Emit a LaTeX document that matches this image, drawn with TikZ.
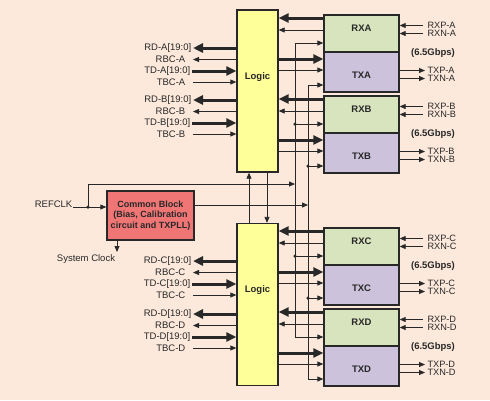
\documentclass[tikz,border=0pt]{standalone}
\usepackage{fontspec}
\setmainfont{Liberation Sans}
\usetikzlibrary{arrows.meta}
\definecolor{bgc}{RGB}{252,233,219}
\definecolor{logicY}{RGB}{255,255,153}
\definecolor{rxG}{RGB}{216,228,190}
\definecolor{txP}{RGB}{204,194,220}
\definecolor{cbR}{RGB}{240,118,118}
\definecolor{ink}{RGB}{40,40,40}
\begin{document}
\begin{tikzpicture}[x=1pt,y=-1pt,
  lbl/.style={font=\fontsize{9.5}{10}\selectfont, text=ink, inner sep=0.5pt},
  plbl/.style={font=\fontsize{9.2}{10}\selectfont, text=ink, inner sep=0.3pt},
  blbl/.style={font=\fontsize{9.5}{10}\selectfont\bfseries, text=ink, inner sep=0.5pt},
  blk/.style={draw=ink, line width=1.3pt, inner sep=0pt},
  logicbox/.style={blk, fill=logicY, minimum width=41pt, minimum height=162pt},
  rxbox/.style={blk, fill=rxG, minimum width=75pt, minimum height=37pt},
  txbox/.style={blk, fill=txP, minimum width=75pt, minimum height=40pt},
  tline/.style={draw=ink, line width=0.8pt},
  tarr/.style={tline, -{Triangle[length=6pt,width=5pt]}},
  barr/.style={draw=ink, line width=3pt, -{Triangle[length=10pt,width=9pt]}},
  jdot/.style={circle, fill=ink, inner sep=0pt, minimum size=3.5pt},
]
\fill[bgc] (0,0) rectangle (490,400);
\useasboundingbox (0,0) rectangle (490,400);

% logic blocks
\node[logicbox, label={[blbl,yshift=14pt]center:Logic}] (LA) at (257.5,91) {};
\node[logicbox, label={[blbl,yshift=14pt]center:Logic}] (LB) at (257.5,304.5) {};

% clock buses
\coordinate (bRA) at (295,43);
\coordinate (bRD) at (295,337);
\coordinate (bTA) at (308,85);
\coordinate (bTD) at (308,379);

% channels on the right
\foreach \c/\o/\L in {A/0/LA, B/81/LA, C/213/LB, D/294/LB}{
  \node[rxbox, label={[blbl,yshift=5pt]center:RX\c}] (rx\c) at (361.5,33.5+\o) {};
  \node[txbox, label={[blbl,yshift=-3pt]center:TX\c}] (tx\c) at (361.5,72+\o) {};
  \node[blbl] (g\c) at (433,53+\o) {(6.5Gbps)};
  % serial ports
  \node[plbl, anchor=west] (rxp\c) at (427,25.5+\o) {RXP-\c};
  \node[plbl, anchor=west] (rxn\c) at (427,33.5+\o) {RXN-\c};
  \node[plbl, anchor=west] (txp\c) at (427,70.5+\o) {TXP-\c};
  \node[plbl, anchor=west] (txn\c) at (427,78.5+\o) {TXN-\c};
  \draw[tarr] ([xshift=-4pt]rxp\c.west) -- (rx\c.east |- rxp\c.west);
  \draw[tarr] ([xshift=-4pt]rxn\c.west) -- (rx\c.east |- rxn\c.west);
  \draw[tarr] (tx\c.east |- txp\c.west) -- ([xshift=-2pt]txp\c.west);
  \draw[tarr] (tx\c.east |- txn\c.west) -- ([xshift=-2pt]txn\c.west);
  % logic <-> transceiver
  \draw[barr] (rx\c.west |- 0,18+\o) -- (\L.east |- 0,18+\o);
  \draw[tarr] (rx\c.west |- 0,30+\o) -- (\L.east |- 0,30+\o);
  \draw[barr] (\L.east |- 0,59+\o) -- (tx\c.west |- 0,59+\o);
  \draw[tarr] (\L.east |- 0,70+\o) -- (tx\c.west |- 0,70+\o);
  \coordinate (bR\c) at (295,43+\o);
  \coordinate (bT\c) at (308,85+\o);
}
\draw[tline] (bRA) -- (bRD);
\draw[tline] (bTA) -- (bTD);
\foreach \c in {A,B,C,D}{
  \draw[tarr] (bR\c) -- (rx\c.west |- bR\c);
  \draw[tarr] (bT\c) -- (tx\c.west |- bT\c);
}
\node[jdot] (dRB) at (bRB) {};
\node[jdot] (dRC) at (bRC) {};
\node[jdot] (dTB) at (bTB) {};
\node[jdot] (dTC) at (bTC) {};

% parallel interfaces on the left
\foreach \c/\p/\L in {A/0/LA, B/52/LA, C/213/LB, D/266/LB}{
  \node[lbl, anchor=east] (rd\c) at (192,48+\p) {RD-\c[19:0]};
  \node[lbl, anchor=east] (rbc\c) at (186,59.5+\p) {RBC-\c};
  \node[lbl, anchor=east] (td\c) at (191,71+\p) {TD-\c[19:0]};
  \node[lbl, anchor=east] (tbc\c) at (186,82+\p) {TBC-\c};
  \draw[barr] (\L.west |- rd\c.east) -- ([xshift=1pt]rd\c.east);
  \draw[tarr] (\L.west |- rbc\c.east) -- ([xshift=7pt]rbc\c.east);
  \draw[barr] ([xshift=1pt]td\c.east) -- (\L.west |- td\c.east);
  \draw[tarr] ([xshift=7pt]tbc\c.east) -- (\L.west |- tbc\c.east);
}

% logic interconnect
\draw[tarr] (LB.north -| 249,0) -- (LA.south -| 249,0);
\draw[tarr] (LA.south -| 267,0) -- (LB.north -| 267,0);

% common block
\node[blk, fill=cbR, minimum width=87pt, minimum height=49pt, align=center,
      font=\fontsize{9}{10.5}\selectfont\bfseries, text=ink] (cb) at (150.5,215.5)
      {Common Block\\(Bias, Calibration\\circuit and TXPLL)};
\node[lbl, anchor=south east] (refclk) at (73,208) {REFCLK};
\coordinate (rj) at (88,207);
\coordinate (rk) at (88,184);
\draw[tline] (refclk.south east |- rj) -- (rj);
\draw[tarr] (rj) -- (cb.west |- rj);
\draw[tarr] (rj) -- (rk) -- (bRA |- rk);
\node[jdot] (drj) at (rj) {};
\coordinate (co) at (cb.east |- 0,205);
\draw[tarr] (co) -- (bTA |- co);
\coordinate (sc) at (117,252);
\draw[tarr] (cb.south -| sc) -- (sc);
\node[lbl] (sysclk) at (86,259) {System Clock};
\end{tikzpicture}
\end{document}
